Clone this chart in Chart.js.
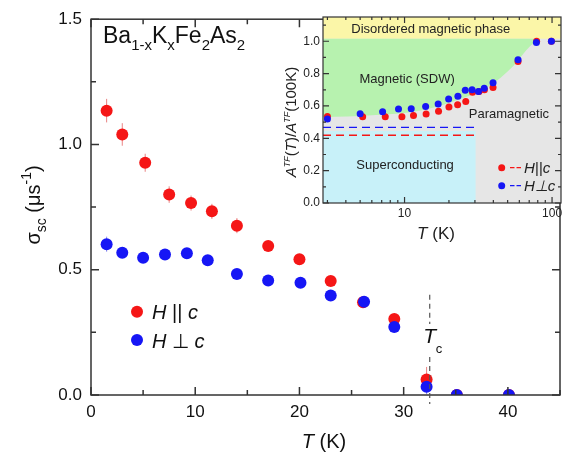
<!DOCTYPE html>
<html>
<head>
<meta charset="utf-8">
<script src="https://cdn.jsdelivr.net/npm/chart.js@4.4.0/dist/chart.umd.min.js"></script>
<style>
html, body { margin: 0; padding: 0; background: #fff; }
#wrap { position: relative; width: 566px; height: 458px; }
#main { position: absolute; left: 0; top: 0; }
#inset { position: absolute; left: 280px; top: 0; }
</style>
</head>
<body>
<div id="wrap">
<canvas id="main" width="566" height="458"></canvas>
<canvas id="inset" width="286" height="250"></canvas>
</div>
<script>
// 本図: sigma_sc vs T
var parT     = [1.5, 3.0, 5.2, 7.5, 9.6, 11.6, 14.0, 17.0, 20.0, 23.0, 26.1, 29.1, 32.2, 35.1, 40.1];
var parSigma = [1.135, 1.04, 0.927, 0.80, 0.766, 0.733, 0.676, 0.595, 0.542, 0.455, 0.37, 0.303, 0.062, 0, 0];
var parErr   = [0.047, 0.045, 0.036, 0.033, 0.03, 0.03, 0.03, 0.02, 0.02, 0.02, 0.02, 0.02, 0.05, 0.01, 0.01];

var perpT     = [1.5, 3.0, 5.0, 7.1, 9.2, 11.2, 14.0, 17.0, 20.1, 23.0, 26.2, 29.1, 32.2, 35.1, 40.1];
var perpSigma = [0.602, 0.568, 0.548, 0.561, 0.566, 0.538, 0.483, 0.457, 0.448, 0.397, 0.372, 0.271, 0.033, 0, 0];
var perpErr   = [0.03, 0.015, 0.015, 0.015, 0.015, 0.015, 0.015, 0.015, 0.015, 0.015, 0.015, 0.015, 0.03, 0.01, 0.01];

var mainXTicks = [0, 10, 20, 30, 40];
var mainYTicks = [0, 0.5, 1.0, 1.5];
var tcValue = 32.5;

// 挿入図: A^TF(T)/A^TF(100K)
var insParT = [3.0, 5.2, 7.4, 9.6, 11.5, 14.0, 17.0, 20.0, 22.9, 26.0, 28.9, 32.0, 34.8, 39.8, 58.8, 78.6, 99];
var insParA = [0.535, 0.533, 0.533, 0.533, 0.541, 0.55, 0.568, 0.593, 0.608, 0.627, 0.685, 0.69, 0.70, 0.714, 0.875, 1.0, 1.0];
var insPerpT = [3.0, 5.0, 7.1, 9.1, 11.1, 13.9, 16.9, 19.9, 23.0, 25.8, 28.7, 31.7, 34.7, 39.8, 58.8, 78.3, 99];
var insPerpA = [0.519, 0.552, 0.564, 0.581, 0.583, 0.597, 0.612, 0.643, 0.66, 0.697, 0.70, 0.689, 0.709, 0.743, 0.886, 0.992, 1.0];

// 相境界
var sdwEdgeT = [2.8, 6, 12.8, 21.4, 36.4, 54.6, 71.2, 83];
var sdwEdgeA = [0.53, 0.542, 0.572, 0.628, 0.715, 0.847, 0.97, 1.015];
var disorderLevel = 1.015;
var scTopA = 0.445;
var scEdgeT = 30.4;
var dashParA = 0.419;
var dashPerpA = 0.467;
var dashEndT = 30.2;

var insXTicks = [10, 100];
var insYTicks = [0, 0.2, 0.4, 0.6, 0.8, 1.0];
var insXMinor = [3, 4, 5, 6, 7, 8, 9, 20, 30, 40, 50, 60, 70, 80, 90];
var insYMinor = [0.1, 0.3, 0.5, 0.7, 0.9, 1.1];

var FONT = '"Liberation Sans", Arial, sans-serif';
var RED = '#f51616';
var BLUE = '#1616f5';
var AXIS = '#333';

function pts(xs, ys) {
    return xs.map(function (x, i) { return { x: x, y: ys[i] }; });
}

// 複数フォントの文字列を並べて描く
function richWidth(ctx, parts) {
    var w = 0;
    parts.forEach(function (p) { ctx.font = p.f; w += ctx.measureText(p.t).width; });
    return w;
}
function richText(ctx, parts, x, y) {
    parts.forEach(function (p) {
        ctx.font = p.f;
        ctx.fillText(p.t, x, y + (p.dy || 0));
        x += ctx.measureText(p.t).width;
    });
    return x;
}

// 内向きの目盛り（四辺）
function drawTicks(ctx, a, xs, ys, xMaj, xMin, yMaj, yMin, lMaj, lMin) {
    ctx.beginPath();
    function xt(v, l) {
        var p = xs.getPixelForValue(v);
        ctx.moveTo(p, a.bottom); ctx.lineTo(p, a.bottom - l);
        ctx.moveTo(p, a.top); ctx.lineTo(p, a.top + l);
    }
    function yt(v, l) {
        var p = ys.getPixelForValue(v);
        ctx.moveTo(a.left, p); ctx.lineTo(a.left + l, p);
        ctx.moveTo(a.right, p); ctx.lineTo(a.right - l, p);
    }
    xMaj.forEach(function (v) { xt(v, lMaj); });
    xMin.forEach(function (v) { xt(v, lMin); });
    yMaj.forEach(function (v) { yt(v, lMaj); });
    yMin.forEach(function (v) { yt(v, lMin); });
    ctx.stroke();
}

var mainDecor = {
    id: 'mainDecor',
    beforeDatasetsDraw: function (chart) {
        // エラーバー
        var ctx = chart.ctx, ys = chart.scales.y, a = chart.chartArea;
        ctx.save();
        ctx.beginPath();
        ctx.rect(a.left, a.top, a.right - a.left, a.bottom - a.top);
        ctx.clip();
        chart.data.datasets.forEach(function (ds, i) {
            if (!ds.errors) return;
            var meta = chart.getDatasetMeta(i);
            ctx.strokeStyle = ds.errorColor;
            ctx.lineWidth = 1;
            meta.data.forEach(function (el, j) {
                var v = ds.data[j].y, e = ds.errors[j];
                ctx.beginPath();
                ctx.moveTo(el.x, ys.getPixelForValue(v - e));
                ctx.lineTo(el.x, ys.getPixelForValue(v + e));
                ctx.stroke();
            });
        });
        ctx.restore();
    },
    afterDraw: function (chart) {
        var ctx = chart.ctx, a = chart.chartArea;
        var xs = chart.scales.x, ys = chart.scales.y;
        ctx.save();
        // 枠
        ctx.strokeStyle = AXIS;
        ctx.lineWidth = 1.5;
        ctx.strokeRect(a.left, a.top, a.right - a.left, a.bottom - a.top);
        drawTicks(ctx, a, xs, ys, mainXTicks, [5, 15, 25, 35, 45], mainYTicks, [0.25, 0.75, 1.25], 8, 5);

        // Tc の破線
        var tx = xs.getPixelForValue(tcValue);
        ctx.strokeStyle = '#555';
        ctx.lineWidth = 1.2;
        ctx.setLineDash([5, 4]);
        ctx.beginPath();
        ctx.moveTo(tx, ys.getPixelForValue(0.4));
        ctx.lineTo(tx, 324);
        ctx.moveTo(tx, 357);
        ctx.lineTo(tx, a.bottom + 9);
        ctx.stroke();
        ctx.setLineDash([]);

        ctx.fillStyle = '#111';
        ctx.textBaseline = 'alphabetic';
        ctx.textAlign = 'center';
        ctx.font = 'italic 21px ' + FONT;
        ctx.fillText('T', tx, 343);
        ctx.textAlign = 'left';
        ctx.font = '13px ' + FONT;
        ctx.fillText('c', tx + 6, 353);

        // 組成式
        var big = '23px ' + FONT, sub = '15px ' + FONT;
        richText(ctx, [
            { t: 'Ba', f: big }, { t: '1-x', f: sub, dy: 7 },
            { t: 'K', f: big }, { t: 'x', f: sub, dy: 7 },
            { t: 'Fe', f: big }, { t: '2', f: sub, dy: 7 },
            { t: 'As', f: big }, { t: '2', f: sub, dy: 7 }
        ], 103, 43);

        // 凡例
        var it = 'italic 20px ' + FONT, rg = '20px ' + FONT;
        [[RED, 311.7, ' || '], [BLUE, 340, ' \u22a5 ']].forEach(function (r) {
            ctx.fillStyle = r[0];
            ctx.beginPath();
            ctx.arc(137, r[1], 6, 0, Math.PI * 2);
            ctx.fill();
            ctx.fillStyle = '#111';
            richText(ctx, [{ t: 'H', f: it }, { t: r[2], f: rg }, { t: 'c', f: it }], 152, r[1] + 7.5);
        });

        // x 軸タイトル
        var xt = [{ t: 'T', f: it }, { t: ' (K)', f: rg }];
        richText(ctx, xt, 324 - richWidth(ctx, xt) / 2, 448);

        // y 軸タイトル
        var yt = [
            { t: '\u03c3', f: rg }, { t: 'sc', f: '14px ' + FONT, dy: 6 },
            { t: ' (\u03bcs', f: rg }, { t: '-1', f: '14px ' + FONT, dy: -9 },
            { t: ')', f: rg }
        ];
        var w = richWidth(ctx, yt);
        ctx.translate(40, 205 + w / 2);
        ctx.rotate(-Math.PI / 2);
        richText(ctx, yt, 0, 0);
        ctx.restore();
    }
};

new Chart(document.getElementById('main'), {
    type: 'scatter',
    data: {
        datasets: [{
            label: 'H \u22a5 c',
            data: pts(perpT, perpSigma),
            errors: perpErr,
            errorColor: 'rgba(90,90,230,0.7)',
            backgroundColor: BLUE,
            pointRadius: 6,
            pointBorderWidth: 0,
            clip: 0,
            order: 0
        }, {
            label: 'H || c',
            data: pts(parT, parSigma),
            errors: parErr,
            errorColor: 'rgba(225,90,90,0.75)',
            backgroundColor: RED,
            pointRadius: 6,
            pointBorderWidth: 0,
            clip: 0,
            order: 1
        }]
    },
    options: {
        responsive: false,
        animation: false,
        devicePixelRatio: 1,
        events: [],
        layout: { padding: { top: 13, right: 4, left: 0, bottom: 0 } },
        plugins: { legend: { display: false }, tooltip: { enabled: false } },
        scales: {
            x: {
                type: 'linear', min: 0, max: 45,
                afterBuildTicks: function (s) { s.ticks = mainXTicks.map(function (v) { return { value: v }; }); },
                afterFit: function (s) { s.height = 63; },
                ticks: { autoSkip: false, maxRotation: 0, padding: 7, color: '#111', font: { family: FONT, size: 17 } },
                grid: { display: false, drawTicks: false },
                border: { display: false }
            },
            y: {
                min: 0, max: 1.5,
                afterBuildTicks: function (s) { s.ticks = mainYTicks.map(function (v) { return { value: v }; }); },
                afterFit: function (s) { s.width = 91; },
                ticks: {
                    padding: 9, color: '#111', font: { family: FONT, size: 17 },
                    callback: function (v) { return v.toFixed(1); }
                },
                grid: { display: false, drawTicks: false },
                border: { display: false }
            }
        }
    },
    plugins: [mainDecor]
});

// 挿入図
var insetDecor = {
    id: 'insetDecor',
    beforeDatasetsDraw: function (chart) {
        var ctx = chart.ctx, a = chart.chartArea;
        ctx.save();
        ctx.fillStyle = '#e6e6e6';
        ctx.fillRect(a.left, a.top, a.right - a.left, a.bottom - a.top);
        ctx.restore();
    },
    afterDraw: function (chart) {
        var ctx = chart.ctx, a = chart.chartArea;
        var xs = chart.scales.x, ys = chart.scales.y;
        ctx.save();
        ctx.strokeStyle = AXIS;
        ctx.lineWidth = 1.2;
        ctx.strokeRect(a.left, a.top, a.right - a.left, a.bottom - a.top);
        drawTicks(ctx, a, xs, ys, insXTicks, insXMinor, insYTicks, insYMinor, 6, 3);

        // 相の名前
        ctx.fillStyle = '#222';
        ctx.font = '13px ' + FONT;
        ctx.textAlign = 'center';
        ctx.textBaseline = 'middle';
        [['Disordered magnetic phase', 15.06, 1.076],
         ['Magnetic (SDW)', 10.4, 0.767],
         ['Paramagnetic', 51, 0.55],
         ['Superconducting', 10.08, 0.235]].forEach(function (l) {
            ctx.fillText(l[0], xs.getPixelForValue(l[1]), ys.getPixelForValue(l[2]));
        });

        // 凡例
        ctx.textAlign = 'left';
        ctx.textBaseline = 'alphabetic';
        [[RED, 167.7, 'H||c'], [BLUE, 185.7, 'H\u22a5c']].forEach(function (r) {
            ctx.fillStyle = r[0];
            ctx.beginPath();
            ctx.arc(221.7, r[1], 3.5, 0, Math.PI * 2);
            ctx.fill();
            ctx.strokeStyle = r[0];
            ctx.lineWidth = 1.2;
            ctx.beginPath();
            ctx.moveTo(230, r[1]); ctx.lineTo(234.5, r[1]);
            ctx.moveTo(236.5, r[1]); ctx.lineTo(241, r[1]);
            ctx.stroke();
            ctx.fillStyle = '#222';
            ctx.font = 'italic 15px ' + FONT;
            ctx.fillText(r[2], 244, r[1] + 5.5);
        });

        // x 軸タイトル
        var it = 'italic 17px ' + FONT, rg = '17px ' + FONT;
        var xt = [{ t: 'T', f: it }, { t: ' (K)', f: rg }];
        richText(ctx, xt, 156 - richWidth(ctx, xt) / 2, 239);

        // y 軸タイトル
        var i15 = 'italic 15px ' + FONT, r15 = '15px ' + FONT, sup = 'italic 9px ' + FONT;
        var yt = [
            { t: 'A', f: i15 }, { t: 'TF', f: sup, dy: -6 },
            { t: '(', f: r15 }, { t: 'T', f: i15 }, { t: ')/', f: r15 },
            { t: 'A', f: i15 }, { t: 'TF', f: sup, dy: -6 },
            { t: '(100K)', f: r15 }
        ];
        var w = richWidth(ctx, yt);
        ctx.translate(16, 122 + w / 2);
        ctx.rotate(-Math.PI / 2);
        richText(ctx, yt, 0, 0);
        ctx.restore();
    }
};

new Chart(document.getElementById('inset'), {
    type: 'scatter',
    data: {
        datasets: [{
            label: 'H\u22a5c',
            data: pts(insPerpT, insPerpA),
            backgroundColor: BLUE,
            pointRadius: 3.5,
            pointBorderWidth: 0,
            order: 1
        }, {
            label: 'H||c',
            data: pts(insParT, insParA),
            backgroundColor: RED,
            pointRadius: 3.5,
            pointBorderWidth: 0,
            order: 2
        }, {
            type: 'line',
            data: pts([2.8, dashEndT], [dashPerpA, dashPerpA]),
            borderColor: BLUE,
            borderWidth: 1.3,
            borderDash: [8, 5],
            pointRadius: 0,
            order: 5
        }, {
            type: 'line',
            data: pts([2.8, dashEndT], [dashParA, dashParA]),
            borderColor: RED,
            borderWidth: 1.3,
            borderDash: [8, 5],
            pointRadius: 0,
            order: 5
        }, {
            type: 'line',
            data: pts([2.8, scEdgeT], [scTopA, scTopA]),
            borderColor: 'transparent',
            borderWidth: 0,
            backgroundColor: '#c8f1f9',
            fill: 'origin',
            pointRadius: 0,
            order: 18
        }, {
            type: 'line',
            data: pts(sdwEdgeT, sdwEdgeA),
            borderColor: 'transparent',
            borderWidth: 0,
            backgroundColor: '#b7f2af',
            fill: { value: disorderLevel },
            cubicInterpolationMode: 'monotone',
            pointRadius: 0,
            order: 19
        }, {
            type: 'line',
            data: pts([2.8, 115], [1.15, 1.15]),
            borderColor: 'transparent',
            borderWidth: 0,
            backgroundColor: '#fbf6a8',
            fill: { value: disorderLevel },
            pointRadius: 0,
            order: 20
        }]
    },
    options: {
        responsive: false,
        animation: false,
        devicePixelRatio: 1,
        events: [],
        layout: { padding: { top: 17, right: 5, left: 0, bottom: 0 } },
        plugins: { legend: { display: false }, tooltip: { enabled: false } },
        scales: {
            x: {
                type: 'logarithmic', min: 2.8, max: 115,
                afterBuildTicks: function (s) { s.ticks = insXTicks.map(function (v) { return { value: v }; }); },
                afterFit: function (s) { s.height = 47; },
                ticks: {
                    autoSkip: false, maxRotation: 0, padding: 3, color: '#222', font: { family: FONT, size: 12 },
                    callback: function (v) { return String(v); }
                },
                grid: { display: false, drawTicks: false },
                border: { display: false }
            },
            y: {
                min: 0, max: 1.15,
                afterBuildTicks: function (s) { s.ticks = insYTicks.map(function (v) { return { value: v }; }); },
                afterFit: function (s) { s.width = 43; },
                ticks: {
                    padding: 3, color: '#222', font: { family: FONT, size: 12 },
                    callback: function (v) { return v.toFixed(1); }
                },
                grid: { display: false, drawTicks: false },
                border: { display: false }
            }
        }
    },
    plugins: [insetDecor]
});
</script>
</body>
</html>
